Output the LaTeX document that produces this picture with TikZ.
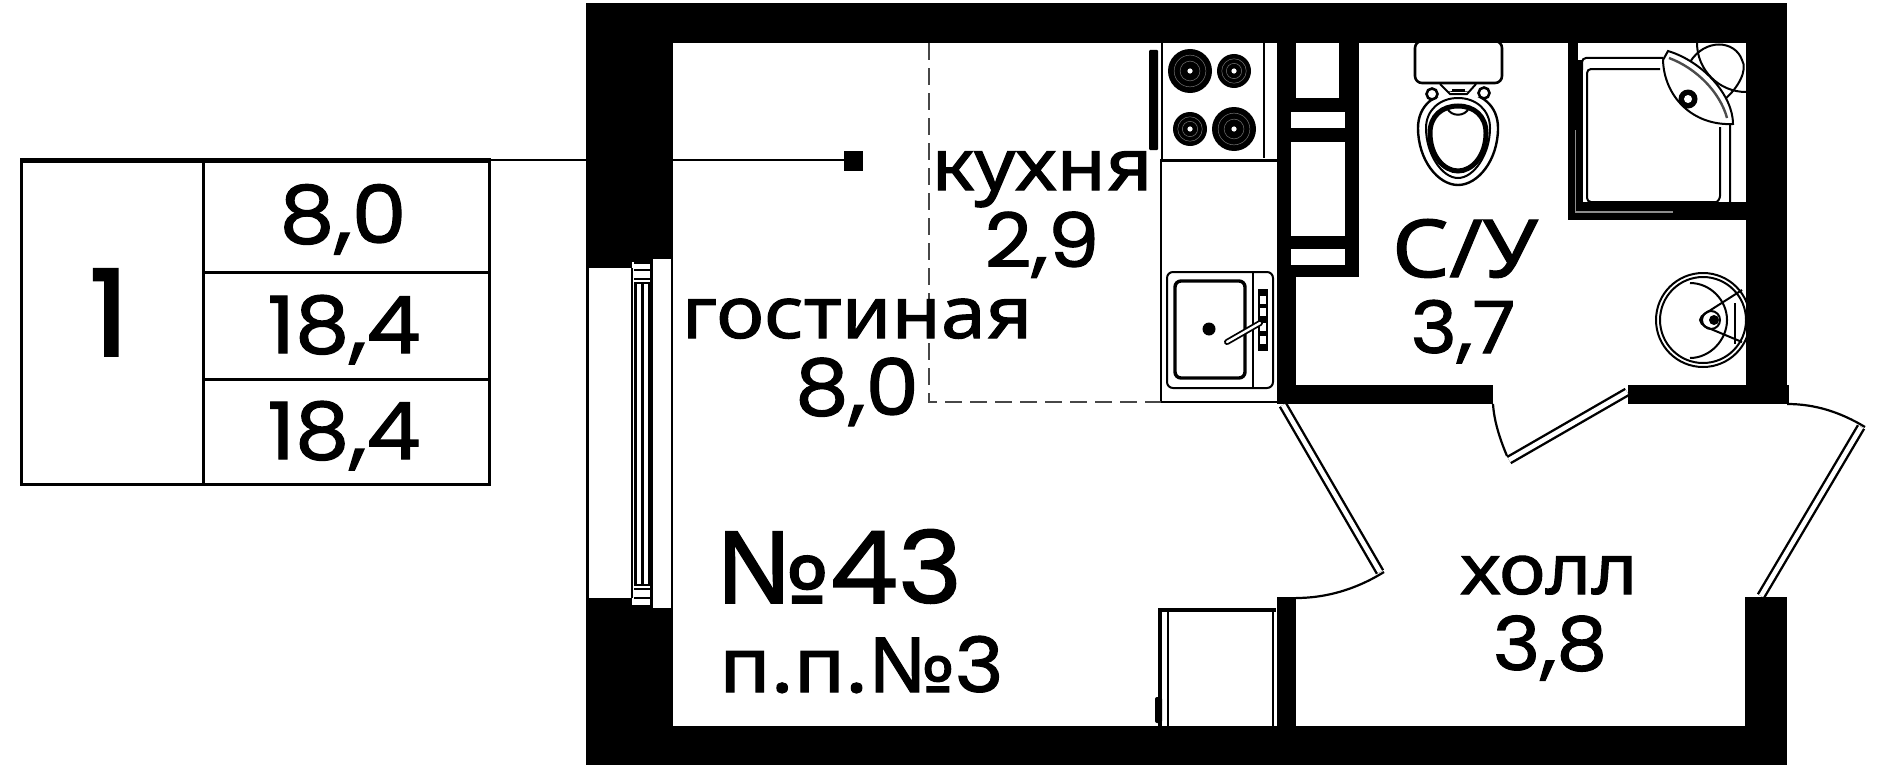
\documentclass[tikz,border=0pt]{standalone}
\usetikzlibrary{calc}
\usepackage{fontspec}
\setmainfont{Noto Sans}
\newfontfamily\numf[FakeStretch=1.09,FakeBold=1.5]{Poppins}
\newfontfamily\onef[FakeBold=3]{Poppins}
\newfontfamily\lblf[FakeStretch=1.12,FakeBold=1.5]{Noto Sans}
\tikzset{
  wall/.style={fill=black,draw=none},
  hole/.style={fill=white,draw=none},
  cellbox/.style={draw=black,line width=3.4pt,inner sep=0pt,minimum width=0pt},
  fix/.style={draw=black,line width=2pt},
  doorleaf/.style={draw=black,double=white,double distance=4.6pt,line width=2.4pt},
  swing/.style={draw=black,line width=2.2pt},
  zone/.style={draw=black!72,line width=1.6pt,dash pattern=on 17pt off 8pt},
  txt/.style={anchor=base,inner sep=0pt,text=black},
  ring/.style={draw=black!55,line width=0.5pt},
}
\begin{document}
\begin{tikzpicture}[x=1pt,y=-1pt]
\useasboundingbox[fill=white] (0,0) rectangle (1894,768);

% ---------- fixtures (under the walls)
% stove
\draw[fix] (1162,43) -- (1162,160);
\draw[fix] (1264,43) -- (1264,158);
\draw[draw=black,line width=3pt] (1160,160) -- (1277,160);
\fill[black,rounded corners=1pt] (1149,50) rectangle (1158,150);
\foreach \cx/\cy/\r in {1190/71/22,1234/71/17,1190/129/17,1234/129/22}{
  \fill[black] (\cx,\cy) circle[radius=\r];
  \draw[ring] (\cx,\cy) circle[radius=\r*0.72];
  \draw[ring] (\cx,\cy) circle[radius=\r*0.45];
  \fill[white] (\cx,\cy) circle[radius=2.6];
}
% counter
\draw[draw=black,line width=2.4pt] (1161,160) -- (1161,402) -- (1277,402);
% sink
\draw[fix,rounded corners=6pt] (1167,272) rectangle (1273,388);
\draw[draw=black,line width=3.4pt,rounded corners=6pt] (1175,281) rectangle (1245,378);
\draw[fix] (1253,272) -- (1253,388);
\fill[black] (1258,289) rectangle (1268,351);
\foreach \sy in {300,312,327,340}{ \fill[white] (1260,\sy-4) rectangle (1266,\sy+4); }
\fill[black] (1209,329) circle[radius=6.5];
\draw[draw=black,line width=6pt,line cap=round] (1227,342) -- (1260,323);
\draw[draw=white,line width=2.4pt,line cap=round] (1227,342) -- (1260,323);
% toilet
\draw[draw=black,line width=2.6pt,rounded corners=7pt,fill=white] (1415,41) rectangle (1502,83);
\draw[draw=black,line width=2.4pt] (1458,92) .. controls (1482,92) and (1498,106) .. (1498,128)
   .. controls (1498,160) and (1478,185) .. (1458,185)
   .. controls (1438,185) and (1418,160) .. (1418,128)
   .. controls (1418,106) and (1434,92) .. (1458,92) -- cycle;
\draw[draw=black,line width=2pt] (1458,98) .. controls (1476,98) and (1490,110) .. (1490,128)
   .. controls (1490,154) and (1474,178) .. (1458,178)
   .. controls (1442,178) and (1426,154) .. (1426,128)
   .. controls (1426,110) and (1440,98) .. (1458,98) -- cycle;
\draw[draw=black,line width=5pt] (1458,106) .. controls (1474,106) and (1486,116) .. (1486,133)
   .. controls (1486,156) and (1472,171) .. (1458,171)
   .. controls (1444,171) and (1430,156) .. (1430,133)
   .. controls (1430,116) and (1442,106) .. (1458,106) -- cycle;
\fill[white] (1434,92) rectangle (1482,97);
\draw[draw=black,line width=2.6pt,fill=white] (1432,94) circle[radius=5.5];
\draw[draw=black,line width=2.6pt,fill=white] (1484,93) circle[radius=5.5];
\draw[fix] (1440,84) -- (1450,94) -- (1467,94) -- (1476,84);
\draw[fix] (1452,90) -- (1465,90);
\draw[fix] (1447,108) .. controls (1451,117) and (1465,117) .. (1469,108);
% shower
\fill[black] (1568,43) rectangle (1578,220);
\fill[black] (1568,60) rectangle (1583,220);
\fill[black] (1568,202) rectangle (1746,220);
\draw[draw=black!45,line width=1.4pt] (1575.5,130) -- (1575.5,212) -- (1673,212);
\draw[fix,rounded corners=4pt] (1663,58) -- (1582,58) -- (1582,70);
\draw[fix,rounded corners=4pt] (1660,69) -- (1587,69) -- (1587,202) -- (1712,202)
   .. controls (1718,202) and (1720,198) .. (1720,192) -- (1720,127);
\draw[fix,rounded corners=4pt] (1730,124) -- (1730,198) .. controls (1730,203) and (1727,205) .. (1714,206);
\begin{scope}
  \clip (1630,43) rectangle (1746,130);
  \draw[fix] (1746,43) circle[radius=49];
  \draw[fix] (1690,62) .. controls (1705,38) and (1735,40) .. (1742,60)
     .. controls (1748,70) and (1738,88) .. (1725,99);
\end{scope}
\draw[fix,fill=white] (1663,60) .. controls (1664,96) and (1692,126) .. (1733,124)
   .. controls (1733,96) and (1704,62) .. (1668,51) -- cycle;
\draw[draw=black!70,line width=2.4pt] (1669,58) .. controls (1696,68) and (1720,92) .. (1727,118);
\fill[black] (1688,99) circle[radius=9.5];
\fill[white] (1688,99) circle[radius=4];
% basin
\begin{scope}
  \clip (1640,260) rectangle (1746,380);
  \draw[fix] (1703,320) circle[radius=47];
  \draw[fix] (1703,320) circle[radius=43];
  \draw[fix] (1690,283) .. controls (1710,283) and (1727,300) .. (1727,320)
     .. controls (1727,340) and (1710,358) .. (1690,358);
  \draw[fix] (1742,290) -- (1706,313) .. controls (1698,318) and (1698,322) .. (1706,327) -- (1742,342);
  \draw[fix] (1735,303) -- (1735,344);
\end{scope}
\draw[fix] (1711,320) circle[radius=9];
\fill[black] (1714,320) circle[radius=5];
% lower cabinet
\draw[draw=black,line width=3.4pt] (1160,726) -- (1160,610) -- (1276,610);
\draw[fix] (1168,610) -- (1168,726);
\draw[fix] (1273,610) -- (1273,726);
\fill[black,rounded corners=2pt] (1155,697) rectangle (1162,723);
% zone dashes
\draw[zone] (929,43) -- (929,402) -- (1161,402);

% ---------- walls
\fill[wall] (586,3) rectangle (1787,43);
\fill[wall] (586,3) rectangle (632,268);
\fill[wall] (632,3) rectangle (673,259);
\fill[wall] (632,3) rectangle (652,262);
\fill[wall] (586,598) rectangle (632,765);
\fill[wall] (632,608) rectangle (673,765);
\fill[wall] (632,605) rectangle (652,765);
\fill[wall] (586,726) rectangle (1787,765);
\fill[wall] (1746,3) rectangle (1787,404);
\fill[wall] (1628,385) rectangle (1789,404);
\fill[wall] (1277,43) rectangle (1359,277);
\fill[wall] (1277,277) rectangle (1296,404);
\fill[wall] (1277,385) rectangle (1493,404);
\fill[wall] (1277,597) rectangle (1296,726);
\fill[wall] (1745,597) rectangle (1787,726);
% shaft voids
\fill[hole] (1296,43) rectangle (1339,98);
\fill[hole] (1291,112) rectangle (1345,128);
\fill[hole] (1291,142) rectangle (1345,236);
\fill[hole] (1291,249) rectangle (1345,265);

% ---------- window
\foreach \wx/\wa/\wb/\ww in {587.5/268/598/3,632/268/598/2.6,671.8/259/608/2.6,651.5/259/608/2.6,635.5/283/585/3,642.5/283/585/3.6,649/283/585/3}{
  \draw[draw=black,line width=\ww pt] (\wx,\wa) -- (\wx,\wb);
}
\foreach \wy in {262.5,270,279,283,585,589,598,606}{
  \draw[draw=black,line width=2.4pt] (634,\wy) -- (651,\wy);
}

% ---------- doors
\coordinate (d1a) at (1283,405);
\coordinate (d1b) at (1380,572);
\coordinate (d1c) at (1296,598);
\coordinate (d2a) at (1627,392);
\coordinate (d2b) at (1509,460);
\coordinate (d2c) at (1493,404);
\coordinate (d3a) at (1761,596);
\coordinate (d3b) at (1861,427);
\coordinate (d3c) at (1787,404);
\draw[doorleaf] (d1a) -- (d1b);
\draw[doorleaf] (d2a) -- (d2b);
\draw[doorleaf] (d3a) -- (d3b);
\draw[swing] ($(d1b)+(4,0)$) .. controls (1355,590) and (1325,598) .. (d1c);
\draw[swing] ($(d2b)+(-2,-4)$) .. controls (1499,437) and (1494,420) .. (d2c);
\draw[swing] (d3c) .. controls (1815,404) and (1840,412) .. ($(d3b)+(4,0)$);

% ---------- apartment table
\node[cellbox,minimum width=182pt,minimum height=323pt,anchor=north west] (cnum) at (20,160) {};
\node[cellbox,minimum width=286pt,minimum height=111pt,anchor=north west] (c1) at (202,160) {};
\node[cellbox,minimum width=286pt,minimum height=107pt,anchor=north west] (c2) at (202,271) {};
\node[cellbox,minimum width=286pt,minimum height=105pt,anchor=north west] (c3) at (202,378) {};
\draw[draw=black,line width=5pt] (cnum.north west) -- (c1.north east);
\node[txt,font=\onef\fontsize{118}{118}\selectfont] (t1) at (109,355) {1};
\node[txt,font=\numf\fontsize{80}{80}\selectfont] (t2) at (343,243) {8,0};
\node[txt,font=\numf\fontsize{79}{79}\selectfont] (t3) at (344,353) {18,4};
\node[txt,font=\numf\fontsize{79}{79}\selectfont] (t4) at (344,459) {18,4};

% ---------- leader
\node[fill=black,inner sep=0pt,minimum width=19pt,minimum height=20pt] (mark) at (853.5,161) {};
\coordinate (lead) at (c1.north east);
\draw[draw=black,line width=2pt] (lead) -- (mark.west |- lead);

% ---------- room labels
\node[txt,font=\lblf\fontsize{72}{72}\selectfont] (kit) at (1042,190) {кухня};
\node[txt,font=\numf\fontsize{75}{75}\selectfont] (kitn) at (1042,267) {2,9};
\node[txt,font=\lblf\fontsize{72}{72}\selectfont] (liv) at (857,338) {гостиная};
\node[txt,font=\numf\fontsize{78}{78}\selectfont] (livn) at (857,415) {8,0};
\node[txt,font=\lblf\fontsize{80}{80}\selectfont] (bath) at (1465,277) {С/У};
\node[txt,font=\numf\fontsize{72}{72}\selectfont] (bathn) at (1463,353) {3,7};
\node[txt,font=\lblf\fontsize{70}{70}\selectfont] (hall) at (1549,594) {холл};
\node[txt,font=\numf\fontsize{74}{74}\selectfont] (halln) at (1550,670) {3,8};
\node[txt,anchor=base west] (no) at (715,603) {\lblf\fontsize{100}{100}\selectfont №\numf\fontsize{100}{100}\selectfont 43};
\node[txt,anchor=base west] (pp) at (719,692) {\lblf\fontsize{76}{76}\selectfont п.п.№\numf 3};
\end{tikzpicture}
\end{document}
